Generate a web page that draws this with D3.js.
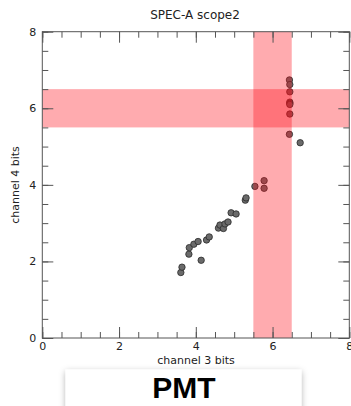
<!DOCTYPE html>
<html>
<head>
<meta charset="utf-8">
<script src="https://cdn.jsdelivr.net/npm/d3@7"></script>
<style>
  html, body { margin: 0; padding: 0; background: #fff; }
  svg { display: block; }
</style>
</head>
<body>
<svg id="chart" width="351" height="406"></svg>
<script>
// ---- data ----
const xValues = [3.61, 3.64, 3.82, 3.83, 3.95, 4.06, 4.14, 4.28, 4.35, 4.59, 4.63, 4.72, 4.76, 4.84, 4.92, 5.05, 5.29, 5.31, 5.54, 5.78, 5.78, 6.44, 6.45, 6.45, 6.45, 6.45, 6.45, 6.45, 6.44, 6.72];
const yValues = [1.71, 1.85, 2.19, 2.36, 2.45, 2.52, 2.03, 2.56, 2.64, 2.87, 2.95, 2.86, 2.98, 3.03, 3.27, 3.24, 3.60, 3.66, 3.96, 4.11, 3.91, 6.74, 6.62, 6.43, 6.16, 6.13, 6.10, 5.85, 5.32, 5.10];
const majorTicks = [0, 2, 4, 6, 8];
const minorTicks = d3.range(0, 8.01, 0.5);
const bandX = [5.5, 6.5];
const bandY = [5.5, 6.5];
const titleText = "SPEC-A scope2";
const xLabel = "channel 3 bits";
const yLabel = "channel 4 bits";
const footerText = "PMT";

// ---- layout ----
const svg = d3.select("#chart");
const pL = 42.3, pR = 349.3, pT = 31.7, pB = 338;
const x = d3.scaleLinear().domain([0, 8]).range([pL, pR]);
const y = d3.scaleLinear().domain([0, 8]).range([pB, pT]);
const font = "'DejaVu Sans', Verdana, sans-serif";
const axisColor = "#555";

// title
svg.append("text").attr("x", 195).attr("y", 19).attr("text-anchor", "middle")
  .attr("font-family", font).attr("font-size", 12).attr("fill", "#222").text(titleText);

// points
const pts = d3.range(xValues.length).map(i => ({x: xValues[i], y: yValues[i]}));
svg.append("g").selectAll("circle").data(pts).join("circle")
  .attr("cx", d => x(d.x)).attr("cy", d => y(d.y)).attr("r", 3.2)
  .attr("fill", "#6a6a6a").attr("stroke", "#2a2a2a").attr("stroke-width", 0.8);

// bands (drawn over points)
svg.append("rect").attr("x", x(bandX[0])).attr("width", x(bandX[1]) - x(bandX[0]))
  .attr("y", pT).attr("height", pB - pT)
  .attr("fill", "rgb(255,10,20)").attr("fill-opacity", 0.34);
svg.append("rect").attr("x", pL).attr("width", pR - pL)
  .attr("y", y(bandY[1])).attr("height", y(bandY[0]) - y(bandY[1]))
  .attr("fill", "rgb(255,10,20)").attr("fill-opacity", 0.34);

// axes
function styleAxis(g) {
  g.select(".domain").remove();
  g.selectAll(".tick line").attr("stroke", axisColor).attr("stroke-width", 1);
  g.selectAll(".tick text").attr("font-family", font).attr("font-size", 11).attr("fill", "#222");
}
const noLabel = () => "";
// minor
svg.append("g").attr("transform", `translate(0,${pB})`)
  .call(d3.axisBottom(x).tickValues(minorTicks).tickSize(-6).tickFormat(noLabel)).call(styleAxis);
svg.append("g").attr("transform", `translate(0,${pT})`)
  .call(d3.axisTop(x).tickValues(minorTicks).tickSize(-6).tickFormat(noLabel)).call(styleAxis);
svg.append("g").attr("transform", `translate(${pL},0)`)
  .call(d3.axisLeft(y).tickValues(minorTicks).tickSize(-6).tickFormat(noLabel)).call(styleAxis);
svg.append("g").attr("transform", `translate(${pR},0)`)
  .call(d3.axisRight(y).tickValues(minorTicks).tickSize(-6).tickFormat(noLabel)).call(styleAxis);
// major
svg.append("g").attr("transform", `translate(0,${pB})`)
  .call(d3.axisBottom(x).tickValues(majorTicks).tickSize(-11).tickPadding(4).tickFormat(d3.format("d"))).call(styleAxis);
svg.append("g").attr("transform", `translate(0,${pT})`)
  .call(d3.axisTop(x).tickValues(majorTicks).tickSize(-11).tickFormat(noLabel)).call(styleAxis);
svg.append("g").attr("transform", `translate(${pL},0)`)
  .call(d3.axisLeft(y).tickValues(majorTicks).tickSize(-11).tickPadding(6).tickFormat(d3.format("d"))).call(styleAxis);
svg.append("g").attr("transform", `translate(${pR},0)`)
  .call(d3.axisRight(y).tickValues(majorTicks).tickSize(-11).tickFormat(noLabel)).call(styleAxis);

// frame
svg.append("rect").attr("x", pL).attr("y", pT).attr("width", pR - pL).attr("height", pB - pT)
  .attr("fill", "none").attr("stroke", axisColor).attr("stroke-width", 1);

// axis labels
svg.append("text").attr("x", 196).attr("y", 364).attr("text-anchor", "middle")
  .attr("font-family", font).attr("font-size", 11).attr("fill", "#222").text(xLabel);
svg.append("text").attr("transform", `translate(19,185) rotate(-90)`).attr("text-anchor", "middle")
  .attr("font-family", font).attr("font-size", 11).attr("fill", "#222").text(yLabel);

// footer box
const defs = svg.append("defs");
const f = defs.append("filter").attr("id", "shadow").attr("x", "-10%").attr("y", "-30%").attr("width", "120%").attr("height", "160%");
f.append("feDropShadow").attr("dx", 0).attr("dy", 2).attr("stdDeviation", 3).attr("flood-color", "#000").attr("flood-opacity", 0.3);
svg.append("rect").attr("x", 65.5).attr("y", 369.5).attr("width", 236).attr("height", 50)
  .attr("fill", "#fff").attr("filter", "url(#shadow)");
svg.append("text").attr("x", 184).attr("y", 398).attr("text-anchor", "middle")
  .attr("font-family", "'Liberation Sans', Arial, sans-serif").attr("font-weight", "bold")
  .attr("font-size", 30).attr("fill", "#000").text(footerText);
</script>
</body>
</html>
